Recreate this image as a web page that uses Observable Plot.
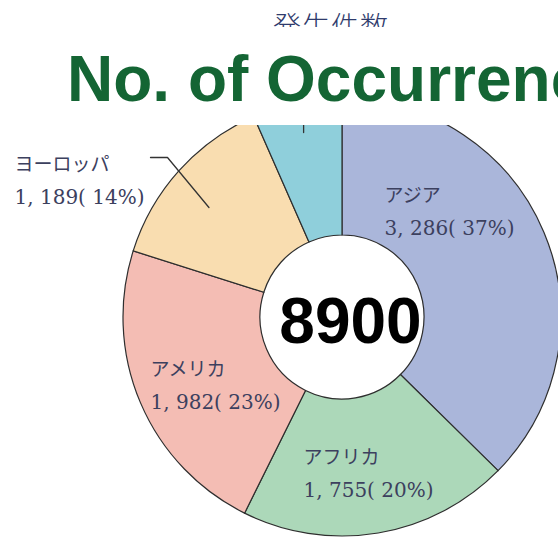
<!DOCTYPE html>
<html><head><meta charset="utf-8">
<script src="https://cdn.jsdelivr.net/npm/d3@7"></script>
<script src="https://cdn.jsdelivr.net/npm/@observablehq/plot@0.6"></script>
<style>
body{margin:0;background:#fff;}
#wrap{position:relative;width:558px;height:538px;overflow:hidden;background:#fff;}
#sub{position:absolute;left:273px;top:0;height:27px;overflow:hidden;box-sizing:border-box;padding-top:11px;font-family:"Noto Sans CJK JP";font-size:28px;line-height:28px;color:#2f3b6c;letter-spacing:1px;white-space:nowrap;font-weight:300;}
#title{position:absolute;left:67px;top:47px;font-family:"Liberation Sans",Arial,sans-serif;font-weight:bold;font-size:64px;line-height:64px;color:#146534;white-space:nowrap;}
#chart{position:absolute;left:0;top:125px;}
</style></head>
<body>
<div id="wrap">
  <div id="sub"></div>
  <div id="title"></div>
  <div id="chart"></div>
</div>
<script>
// ---- data ----
const regions = ["アジア", "アフリカ", "アメリカ", "ヨーロッパ", "オセアニア"];
const counts = [3286, 1755, 1982, 1189, 580];
const centerLabel = ["8900"];
const subtitleText = "発生件数";
const titleText = "No. of Occurrences";

// ---- styles / layout (not data) ----
const sliceColors = ["#aab6da", "#acd8b9", "#f4bdb4", "#f9ddb0", "#8fcfdb"];
const pieCenter = [342, 192];
const radii = [82, 219];
const labelAt = [[384, 76], [303, 338], [150, 250], [14, 45], null];
const lineGap = 33;
const centerAt = [350, 217];

document.getElementById("sub").textContent = subtitleText;
document.getElementById("title").textContent = titleText;

const total = d3.sum(counts);
const pie = d3.pie().sort(null).value(d => d)(counts);
const rows = regions.map((r, i) => ({
  region: r, count: counts[i],
  pct: Math.round(counts[i] / total * 100),
  start: pie[i].startAngle, end: pie[i].endAngle, color: sliceColors[i],
  lx: labelAt[i] ? labelAt[i][0] : null, ly: labelAt[i] ? labelAt[i][1] : null
}));
const labelled = rows.filter(d => d.lx != null);
const fmt = d => d3.format(",")(d.count).replace(",", ", ") + "( " + d.pct + "%)";

const polar = (angle, r) => [pieCenter[0] + r * Math.sin(angle), pieCenter[1] - r * Math.cos(angle)];

// leader lines
const eu = rows[3], oc = rows[4];
const euAnchor = polar(eu.start + 0.45 * (eu.end - eu.start), 173);
const euLeader = [euAnchor, [167, 32], [150, 32]];
const ocAnchor = polar((oc.start + oc.end) / 2, 189);
const ocLeader = [ocAnchor, [ocAnchor[0], -40]];

const arcsMark = (index, scales) => {
  const cx = scales.x(pieCenter[0]), cy = scales.y(pieCenter[1]);
  const k = Math.abs(scales.x(1) - scales.x(0));
  const arc = d3.arc().innerRadius(radii[0] * k).outerRadius(radii[1] * k);
  const g = d3.create("svg:g").attr("transform", `translate(${cx},${cy})`);
  g.selectAll("path").data(rows).join("path")
    .attr("d", d => arc({startAngle: d.start, endAngle: d.end}))
    .attr("fill", d => d.color)
    .attr("stroke", "#2e2e2e")
    .attr("stroke-width", 1.2);
  return g.node();
};

const plot = Plot.plot({
  width: 558, height: 413, margin: 0,
  x: {domain: [0, 558], range: [0, 558], axis: null},
  y: {domain: [0, 413], range: [0, 413], axis: null},
  style: {background: "#fff"},
  marks: [
    arcsMark,
    Plot.line(euLeader, {x: d => d[0], y: d => d[1], stroke: "#333", strokeWidth: 1.3}),
    Plot.line(ocLeader, {x: d => d[0], y: d => d[1], stroke: "#333", strokeWidth: 1.3}),
    Plot.text(labelled, {x: "lx", y: "ly", text: "region", textAnchor: "start", lineAnchor: "bottom",
      fontFamily: "'DejaVu Serif','Noto Sans CJK JP'", fontSize: 19, fill: "#3c405e", ariaLabel: "kana"}),
    Plot.text(labelled, {x: "lx", y: d => d.ly + lineGap, text: fmt, textAnchor: "start", lineAnchor: "bottom",
      fontFamily: "'DejaVu Serif','Noto Sans CJK JP'", fontSize: 20, fill: "#3c405e"}),
    Plot.text(centerLabel, {x: () => centerAt[0], y: () => centerAt[1], text: d => d, lineAnchor: "bottom",
      fontFamily: "'Liberation Sans',Arial,sans-serif", fontWeight: "bold", fontSize: 64, fill: "#000"})
  ]
});
d3.select(plot).selectAll("g[aria-label='kana'] text").style("letter-spacing", "4px");
document.getElementById("chart").appendChild(plot);
</script>
</body></html>
